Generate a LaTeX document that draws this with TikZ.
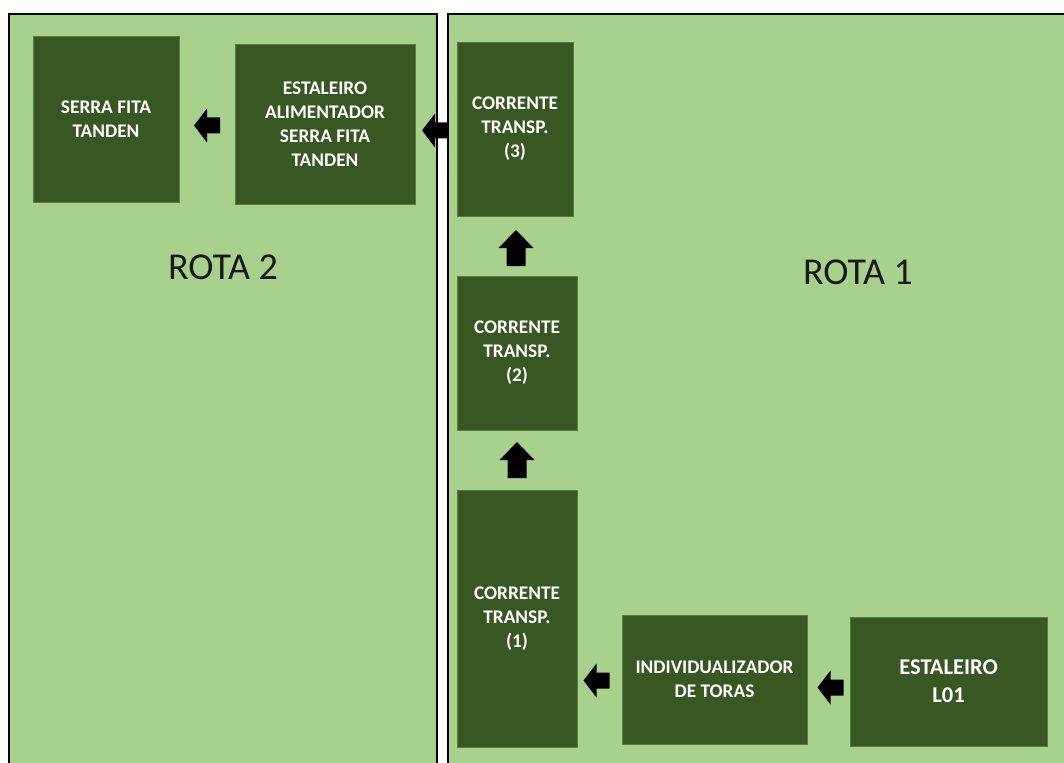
\documentclass[tikz,border=0pt]{standalone}
\usepackage{fontspec}
\setmainfont{Carlito}
\usetikzlibrary{calc}
\definecolor{panelgreen}{HTML}{A9D18E}
\definecolor{boxgreen}{HTML}{385723}
\definecolor{boxedge}{HTML}{557F38}
\tikzset{
  panel/.style={fill=panelgreen, draw=black, line width=1.6pt},
  stepbox/.style={rectangle, fill=boxgreen, draw=boxedge, line width=0.6pt, text=white,
    font=\bfseries\fontsize{19.3}{24}\selectfont, align=center, inner sep=0pt, anchor=center},
  rota/.style={font=\fontsize{38}{42}\selectfont, text=black!90, anchor=center, inner sep=0pt},
  larrow/.pic={\fill[black] (-13,0) -- (0,-17) -- (0,-8) -- (13,-8) -- (13,8) -- (0,8) -- (0,17) -- cycle;},
  uarrow/.pic={\fill[black] (0,-18) -- (17.5,0) -- (9.5,0) -- (9.5,18) -- (-9.5,18) -- (-9.5,0) -- (-17.5,0) -- cycle;}
}
\begin{document}
\begin{tikzpicture}[x=1pt,y=-1pt]
\useasboundingbox (0,0) rectangle (1064,762);
\clip (0,0) rectangle (1064,762);
\fill[white] (0,0) rectangle (1064,762);
% panels
\draw[panel] (9,14) rectangle (437,790);
\draw[panel] (448,14) rectangle (1090,790);
% boxes
\node[stepbox, minimum width=146pt, minimum height=166pt] (serra) at (106,119) {SERRA FITA\\TANDEN};
\node[stepbox, minimum width=180pt, minimum height=160pt] (alim) at (325,124) {ESTALEIRO\\ALIMENTADOR\\SERRA FITA\\TANDEN};
\node[stepbox, minimum width=116pt, minimum height=174pt] (c3) at (515,129) {CORRENTE\\TRANSP.\\(3)};
\node[stepbox, minimum width=120pt, minimum height=154pt] (c2) at (517,353) {CORRENTE\\TRANSP.\\(2)};
\node[stepbox, minimum width=120pt, minimum height=257pt] (c1) at (517,618.5) {CORRENTE\\TRANSP.\\(1)};
\node[stepbox, minimum width=185pt, minimum height=129pt] (indiv) at (714.5,679.5) {INDIVIDUALIZADOR\\DE TORAS};
\node[stepbox, minimum width=197pt, minimum height=129pt, font=\bfseries\fontsize{22.5}{28}\selectfont] (est) at (948.5,681.5) {ESTALEIRO\\L01};
% labels
\node[rota] (rota2) at (223,267) {ROTA 2};
\node[rota] (rota1) at (858,272) {ROTA 1};
% block arrows (connectors)
\pic at ($(serra.east)!0.5!(alim.west)+(0,4)$) {larrow};
\pic at ($(alim.east)!0.5!(c3.west)+(-1,4)$) {larrow};
\pic at ($(c3.south)!0.5!(c2.north)+(0,2)$) {uarrow};
\pic at ($(c2.south)!0.5!(c1.north)$) {uarrow};
\pic at ($(c1.east |- indiv.west)!0.5!(indiv.west)+(-3,1)$) {larrow};
\pic at ($(indiv.east)!0.5!(est.west)+(2,7)$) {larrow};
\end{tikzpicture}
\end{document}
